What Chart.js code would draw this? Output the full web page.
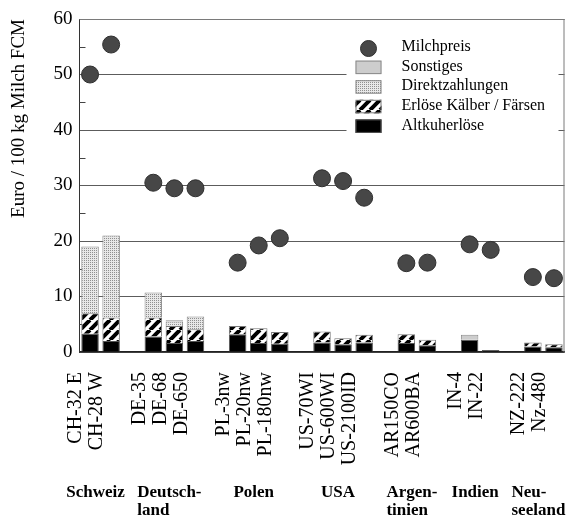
<!DOCTYPE html>
<html>
<head>
<meta charset="utf-8">
<script src="https://cdn.jsdelivr.net/npm/chart.js@4.4.0/dist/chart.umd.min.js"></script>
<style>
  html, body { margin: 0; padding: 0; background: #fff; }
  #wrap { width: 574px; height: 517px; }
</style>
</head>
<body>
<div id="wrap"><canvas id="chart"></canvas></div>
<script>
/* Erlöse je 100 kg Milch FCM - Betriebe nach Ländern */

const farms = ["CH-32 E", "CH-28 W", "DE-35", "DE-68", "DE-650", "PL-3nw", "PL-20nw", "PL-180nw",
    "US-70WI", "US-600WI", "US-2100ID", "AR150CO", "AR600BA", "IN-4", "IN-22", "NZ-222", "Nz-480"];
const groupNames = ["Schweiz", "Deutsch-\nland", "Polen", "USA", "Argen-\ntinien", "Indien", "Neu-\nseeland"];
const groupSizes = [2, 3, 3, 3, 2, 2, 2];

const milchpreis = [50.0, 55.4, 30.5, 29.5, 29.5, 16.1, 19.2, 20.5, 31.3, 30.8, 27.8, 16.0, 16.1, 19.4, 18.4, 13.5, 13.3];
const altkuh    = [3.3, 2.0, 2.8, 1.6, 2.0, 3.2, 1.6, 1.5, 1.7, 1.4, 1.7, 1.6, 1.2, 2.2, 0.35, 1.0, 0.85];
const kaelber   = [3.7, 4.2, 3.4, 3.1, 2.1, 1.5, 2.7, 2.1, 2.0, 1.1, 1.4, 1.6, 1.0, 0, 0, 0.7, 0.55];
const direkt    = [12.0, 14.8, 4.5, 0.8, 2.3, 0, 0, 0, 0, 0, 0, 0, 0, 0, 0, 0, 0];
const sonstiges = [0, 0, 0, 0.2, 0, 0, 0, 0, 0, 0, 0, 0, 0, 0.9, 0, 0, 0];

const yTicks = [0, 10, 20, 30, 40, 50, 60];

const FONT = "'Liberation Serif', 'Times New Roman', serif";

// Kategorien mit je einer Leerstelle zwischen den Ländern
const slots = [];
const slotIndex = [];
const groupSlots = [];
let k = 0;
groupSizes.forEach((n, g) => {
    if (g > 0) slots.push("");
    const first = slots.length;
    for (let i = 0; i < n; i++) {
        slotIndex.push(slots.length);
        slots.push(farms[k++]);
    }
    groupSlots.push([first, slots.length - 1]);
});

function spread(arr) {
    const out = slots.map(() => null);
    arr.forEach((v, i) => { out[slotIndex[i]] = v ? v : null; });
    return out;
}

function makePattern(size, draw) {
    const c = document.createElement("canvas");
    c.width = size; c.height = size;
    const g = c.getContext("2d");
    draw(g, size);
    return g.createPattern(c, "repeat");
}

const stipple = makePattern(2, (g) => {
    g.fillStyle = "#e8e8e8"; g.fillRect(0, 0, 2, 2);
    g.fillStyle = "#8f8f8f"; g.fillRect(0, 0, 1, 1);
});
const hatch = makePattern(10, (g, s) => {
    g.fillStyle = "#fff"; g.fillRect(0, 0, s, s);
    g.strokeStyle = "#000"; g.lineWidth = 4;
    g.beginPath();
    for (let o = -s; o <= s; o += s) {
        g.moveTo(o, s); g.lineTo(o + s, 0);
    }
    g.moveTo(-1, s + 1); g.lineTo(s + 1, -1);
    g.stroke();
});

const framePlugin = {
    id: "frame",
    beforeDatasetsDraw(chart) {
        const {ctx, chartArea: a, scales: {y}} = chart;
        ctx.save();
        ctx.strokeStyle = "#7a7a7a";
        ctx.lineWidth = 1;
        ctx.beginPath();
        ctx.moveTo(a.left, a.top + 0.5); ctx.lineTo(a.right, a.top + 0.5);
        ctx.moveTo(a.right - 0.5, a.top); ctx.lineTo(a.right - 0.5, a.bottom);
        ctx.stroke();
        // kleine Zwischenstriche links
        ctx.strokeStyle = "#444";
        ctx.beginPath();
        for (let v = 5; v < 60; v += 10) {
            const py = Math.round(y.getPixelForValue(v)) + 0.5;
            ctx.moveTo(a.left, py); ctx.lineTo(a.left + 6, py);
        }
        ctx.stroke();
        ctx.restore();
    }
};

const legendPlugin = {
    id: "boxLegend",
    afterDraw(chart) {
        const {ctx, chartArea: a} = chart;
        const ds = chart.data.datasets;
        const items = [ds[0], ds[4], ds[3], ds[2], ds[1]];
        const bx = a.right - 209, tx = a.right - 163;
        ctx.save();
        ctx.fillStyle = "#fff";
        ctx.fillRect(a.right - 218, a.top + 12, 212, 112);
        ctx.font = "16px " + FONT;
        ctx.textBaseline = "middle";
        ctx.textAlign = "left";
        items.forEach((d, i) => {
            const cy = a.top + 28 + i * 19.6;
            if (i === 0) {
                ctx.beginPath();
                ctx.arc(bx + 13, cy + 1.5, 8, 0, Math.PI * 2);
                ctx.fillStyle = d.backgroundColor;
                ctx.fill();
                ctx.strokeStyle = d.borderColor;
                ctx.lineWidth = 1;
                ctx.stroke();
            } else {
                ctx.fillStyle = d.backgroundColor;
                ctx.fillRect(bx, cy - 6, 26, 13.5);
                ctx.strokeStyle = d.borderColor;
                ctx.lineWidth = 1;
                ctx.strokeRect(bx + 0.5, cy - 5.5, 25, 12.5);
            }
            ctx.fillStyle = "#000";
            ctx.fillText(d.label, tx, cy);
        });
        ctx.restore();
    }
};

const groupPlugin = {
    id: "groupLabels",
    afterDraw(chart) {
        const {ctx, chartArea: a, scales: {x}} = chart;
        ctx.save();
        ctx.font = "bold 17px " + FONT;
        ctx.fillStyle = "#000";
        ctx.textBaseline = "alphabetic";
        ctx.textAlign = "left";
        groupNames.forEach((name, g) => {
            const lines = name.split("\n");
            const c = (x.getPixelForValue(groupSlots[g][0]) + x.getPixelForValue(groupSlots[g][1])) / 2 - 5;
            const w = Math.max(...lines.map(l => ctx.measureText(l).width));
            lines.forEach((l, j) => ctx.fillText(l, c - w / 2, a.bottom + 145 + j * 18));
        });
        ctx.restore();
    }
};

new Chart(document.getElementById("chart"), {
    type: "bar",
    data: {
        labels: slots,
        datasets: [
            {
                type: "line", label: "Milchpreis", data: spread(milchpreis), stack: "m",
                showLine: false, pointRadius: 8.5, pointHoverRadius: 8.5,
                backgroundColor: "#474747", borderColor: "#2f2f2f", borderWidth: 1,
                pointBorderWidth: 1, order: 0, clip: false
            },
            {label: "Altkuherlöse", data: spread(altkuh), stack: "s", backgroundColor: "#000", borderColor: "#555", borderWidth: 1, order: 1},
            {label: "Erlöse Kälber / Färsen", data: spread(kaelber), stack: "s", backgroundColor: hatch, borderColor: "#777", borderWidth: 1, order: 1},
            {label: "Direktzahlungen", data: spread(direkt), stack: "s", backgroundColor: stipple, borderColor: "#888", borderWidth: 1, order: 1},
            {label: "Sonstiges", data: spread(sonstiges), stack: "s", backgroundColor: "#cdcdcd", borderColor: "#8a8a8a", borderWidth: 1, order: 1}
        ]
    },
    options: {
        responsive: true,
        maintainAspectRatio: false,
        animation: false,
        layout: {padding: {top: 19, right: 8, bottom: 0, left: 0}},
        datasets: {bar: {categoryPercentage: 1, barPercentage: 0.83}},
        plugins: {legend: {display: false}, tooltip: {enabled: false}},
        scales: {
            x: {
                stacked: true,
                grid: {display: false, drawTicks: false},
                border: {color: "#222", width: 1.5},
                ticks: {
                    autoSkip: false, minRotation: 90, maxRotation: 90,
                    padding: 20, labelOffset: -14, color: "#000",
                    font: {family: FONT, size: 20}
                },
                afterFit: s => { s.height = 165; s.paddingLeft = 0; s.paddingRight = 0; }
            },
            y: {
                stacked: true,
                min: 0, max: 60,
                afterBuildTicks: s => { s.ticks = yTicks.map(v => ({value: v})); },
                grid: {color: "#5c5c5c", drawTicks: false},
                border: {color: "#333"},
                ticks: {padding: 7, color: "#000", font: {family: FONT, size: 19}},
                title: {
                    display: true, text: "Euro / 100 kg Milch FCM", align: "end",
                    color: "#000", font: {family: FONT, size: 19},
                    padding: {top: 8, bottom: 0}
                },
                afterFit: s => { s.width = 79.5; s.paddingTop = 0; s.paddingBottom = 0; }
            }
        }
    },
    plugins: [framePlugin, legendPlugin, groupPlugin]
});
</script>
</body>
</html>
